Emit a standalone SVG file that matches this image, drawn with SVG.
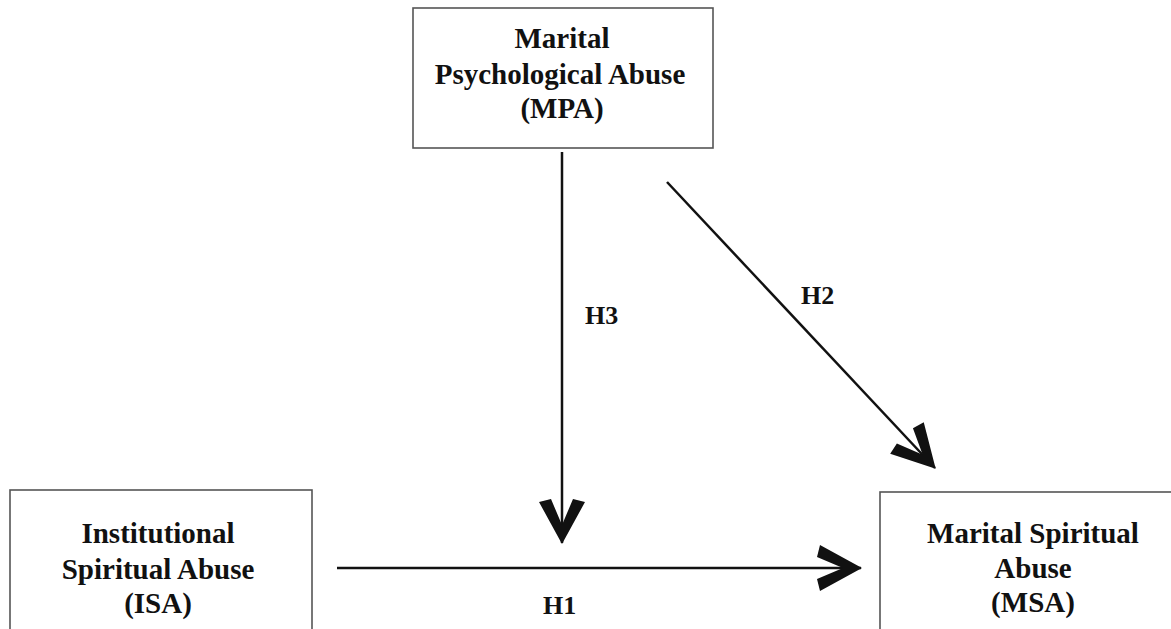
<svg xmlns="http://www.w3.org/2000/svg" width="1171" height="629" viewBox="0 0 1171 629">
<style>
.box{fill:#fff;stroke:#555;stroke-width:1.6}
.t{font-family:"Liberation Serif","Times New Roman",serif;font-weight:bold;font-size:29px;fill:#111;text-anchor:middle}
.lbl{font-family:"Liberation Serif","Times New Roman",serif;font-weight:bold;font-size:26px;fill:#111}
.edge{stroke:#111;stroke-width:2.5;fill:none;marker-end:url(#chev)}
</style>
<defs>
<marker id="chev" markerUnits="userSpaceOnUse" viewBox="-46 -24 48 48" markerWidth="48" markerHeight="48" refX="0" refY="0" orient="auto">
<polygon points="1,0 -41,-23 -44,-11 -18,0 -44,11 -41,23" fill="#111"/>
</marker>
</defs>
<rect width="1171" height="629" fill="#fff"/>
<g id="connectors">
<line class="edge" x1="562" y1="152" x2="562" y2="543"/>
<line class="edge" x1="337" y1="568" x2="861" y2="568"/>
<line class="edge" x1="667" y1="182" x2="935" y2="468"/>
<text class="lbl" x="585" y="324">H3</text>
<text class="lbl" x="801" y="304">H2</text>
<text class="lbl" x="543" y="614">H1</text>
</g>
<g id="mpa">
<rect class="box" x="413" y="8" width="300" height="140"/>
<text class="t" x="562" y="48">Marital</text>
<text class="t" x="560" y="84">Psychological Abuse</text>
<text class="t" x="562" y="118">(MPA)</text>
</g>
<g id="isa">
<rect class="box" x="10" y="490" width="302" height="150"/>
<text class="t" x="158" y="543">Institutional</text>
<text class="t" x="158" y="579">Spiritual Abuse</text>
<text class="t" x="158" y="613">(ISA)</text>
</g>
<g id="msa">
<rect class="box" x="880" y="492" width="300" height="150"/>
<text class="t" x="1033" y="543">Marital Spiritual</text>
<text class="t" x="1033" y="578">Abuse</text>
<text class="t" x="1033" y="612">(MSA)</text>
</g>
</svg>
